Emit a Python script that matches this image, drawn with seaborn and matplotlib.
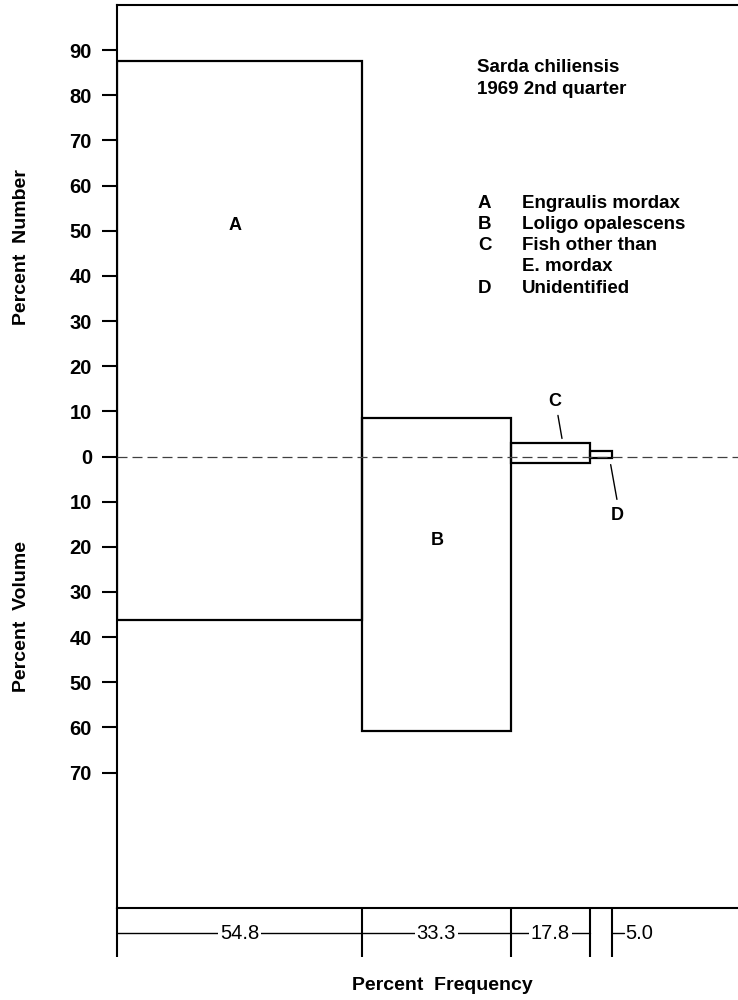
import numpy as np
import matplotlib
matplotlib.use("Agg")
import matplotlib.pyplot as plt
import seaborn as sns

# prey categories of Sarda chiliensis, 1969 2nd quarter
prey_codes = ["A", "B", "C", "D"]
prey_names = ["Engraulis mordax", "Loligo opalescens", "Fish other than\nE. mordax", "Unidentified"]
pct_frequency = [54.8, 33.3, 17.8, 5.0]
pct_number = [87.7, 8.6, 2.9, 1.3]
pct_volume = [36.3, 60.7, 1.5, 0.4]
freq_labels = ["54.8", "33.3", "17.8", "5.0"]

sns.set_style("ticks")
plt.rcParams["font.family"] = ["Liberation Sans", "DejaVu Sans"]
plt.rcParams["text.color"] = "black"
plt.rcParams["ytick.color"] = "black"
plt.rcParams["ytick.labelcolor"] = "black"

fig = plt.figure(figsize=(7.38, 10), dpi=100)
ax = fig.add_axes([117 / 738, 92 / 1000, 1 - 117 / 738, 903 / 1000])

edges = np.concatenate([[0], np.cumsum(pct_frequency)])
mids = (edges[:-1] + edges[1:]) / 2
num = np.array(pct_number)
vol = np.array(pct_volume)

# each block: width = percent frequency, up = percent number, down = percent volume
ax.bar(edges[:-1], num + vol, width=pct_frequency, bottom=-vol, align="edge",
       fill=False, edgecolor="black", linewidth=1.6, zorder=2)

ax.axhline(0, color="0.25", lw=0.9, ls=(0, (8, 4)), zorder=3)

ax.set_xlim(0, 139)
ax.set_ylim(-100, 100)
ax.set_xticks([])
yt = np.arange(-70, 100, 10)
ax.set_yticks(yt)
ax.set_yticklabels([str(abs(v)) for v in yt], fontsize=14.5, fontweight="bold")
ax.tick_params(axis="y", length=11, width=1.5, pad=7)
for s in ["left", "top", "bottom"]:
    ax.spines[s].set_linewidth(1.5)
    ax.spines[s].set_color("black")
ax.spines["right"].set_visible(False)

# bar letters
ax.text(26.4, 51.2, "A", ha="center", va="center", fontsize=13, fontweight="bold")
ax.text(71.6, -18.5, "B", ha="center", va="center", fontsize=13, fontweight="bold")
ax.text(98.0, 12.1, "C", ha="center", va="center", fontsize=13, fontweight="bold")
ax.text(111.9, -13.0, "D", ha="center", va="center", fontsize=13, fontweight="bold")
ax.plot([98.7, 99.6], [9.1, 4.0], color="black", lw=1)
ax.plot([110.5, 111.9], [-1.8, -9.5], color="black", lw=1)

# frequency scale below the axis
scale_y = -105.6
tick_low = -110.8
ax.plot([0, edges[3]], [scale_y, scale_y], color="black", lw=1, clip_on=False)
for e in edges:
    ax.plot([e, e], [-100, tick_low], color="black", lw=1.5, clip_on=False,
            solid_capstyle="butt")
for i in range(3):
    ax.text(mids[i], scale_y, freq_labels[i], ha="center", va="center", fontsize=14.5,
            bbox=dict(facecolor="white", edgecolor="none", pad=1.5), clip_on=False)
ax.plot([edges[4], edges[4] + 2.6], [scale_y, scale_y], color="black", lw=1, clip_on=False)
ax.text(edges[4] + 2.8, scale_y, freq_labels[3], ha="left", va="center", fontsize=14.5,
        clip_on=False)

fig.text(442 / 738, 1 - 985 / 1000, "Percent  Frequency", ha="center", va="center",
         fontsize=14, fontweight="bold")
fig.text(22 / 738, 1 - 247 / 1000, "Percent  Number", ha="center", va="center",
         rotation=90, fontsize=14, fontweight="bold")
fig.text(22 / 738, 1 - 617 / 1000, "Percent  Volume", ha="center", va="center",
         rotation=90, fontsize=14, fontweight="bold")

# title block and key
fig.text(477 / 738, 1 - 67 / 1000, "Sarda chiliensis", ha="left", va="center",
         fontsize=13.5, fontweight="bold")
fig.text(477 / 738, 1 - 90 / 1000, "1969 2nd quarter", ha="left", va="center",
         fontsize=13.5, fontweight="bold")
line = 0
for code, name in zip(prey_codes, prey_names):
    fig.text(478 / 738, 1 - (203 + 21.3 * line) / 1000, code, ha="left", va="center",
             fontsize=13.5, fontweight="bold")
    for part in name.split("\n"):
        fig.text(522 / 738, 1 - (203 + 21.3 * line) / 1000, part, ha="left", va="center",
                 fontsize=13.5, fontweight="bold")
        line += 1

fig.savefig("out.png", dpi=100)
